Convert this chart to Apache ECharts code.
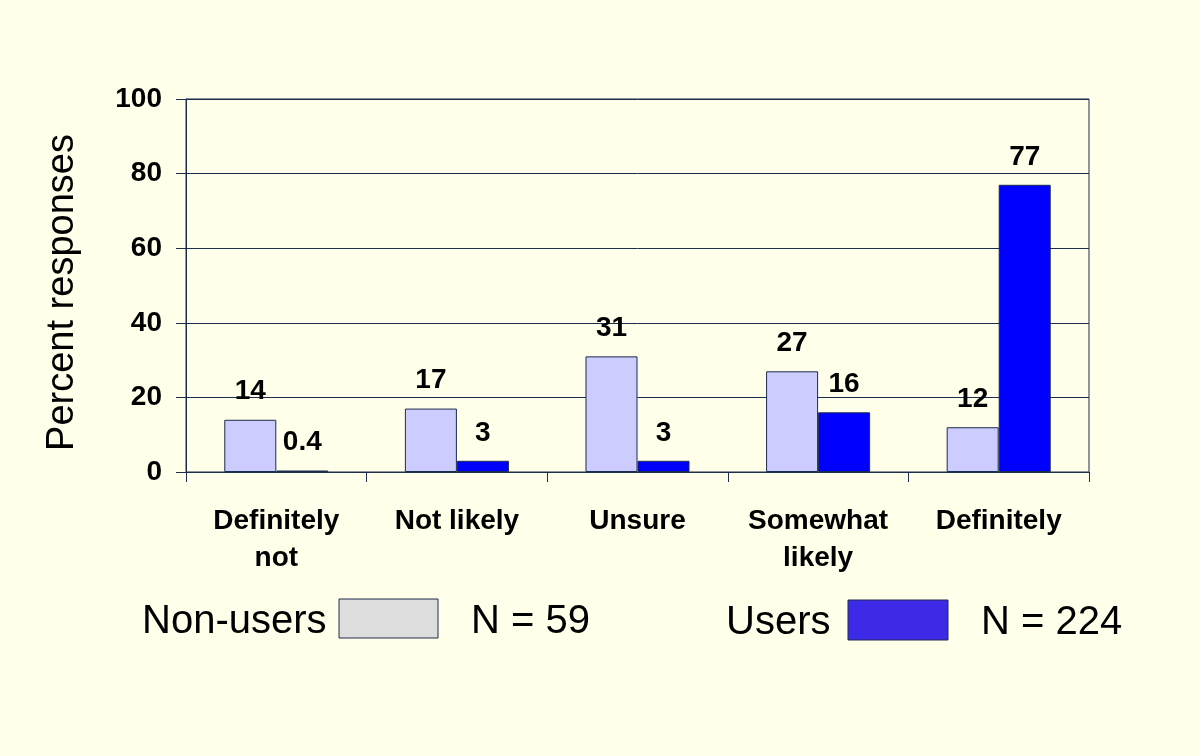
<!DOCTYPE html>
<html>
<head>
<meta charset="utf-8">
<script src="https://cdn.jsdelivr.net/npm/echarts@6/dist/echarts.min.js"></script>
<style>
html,body{margin:0;padding:0;background:#FFFFEA;}
#chart{width:1200px;height:756px;}
</style>
</head>
<body>
<div id="chart"></div>
<script>
var categories = ['Definitely\nnot', 'Not likely', 'Unsure', 'Somewhat\nlikely', 'Definitely'];
var nonUsers = [14, 17, 31, 27, 12];
var users = [0.4, 3, 3, 16, 77];
var yTicks = [0, 20, 40, 60, 80, 100];
var legendNonUsers = ['Non-users', 'N = 59'];
var legendUsers = ['Users', 'N = 224'];
var yAxisTitle = 'Percent responses';

var FONT = '"Liberation Sans", Arial, sans-serif';
var LINE = '#1C2C4C';
var chart = echarts.init(document.getElementById('chart'));
var labelStyle = {
  show: true, position: 'top', distance: 14,
  fontFamily: FONT, fontWeight: 'bold', fontSize: 28, color: '#000'
};
chart.setOption({
  backgroundColor: '#FFFFEA',
  animation: false,
  grid: {
    left: 186, right: 111, top: 99, bottom: 284,
    show: true, borderColor: LINE, borderWidth: 1, backgroundColor: 'transparent'
  },
  xAxis: {
    type: 'category',
    data: categories,
    axisLine: { lineStyle: { color: LINE, width: 1 } },
    axisTick: { show: true, length: 10, lineStyle: { color: LINE } },
    axisLabel: {
      margin: 31, fontFamily: FONT, fontWeight: 'bold', fontSize: 28,
      color: '#000', lineHeight: 37, verticalAlign: 'top', interval: 0
    }
  },
  yAxis: {
    type: 'value',
    min: yTicks[0], max: yTicks[yTicks.length - 1], interval: 20,
    name: yAxisTitle,
    nameLocation: 'middle',
    nameGap: 104,
    nameRotate: 90,
    nameTextStyle: { fontFamily: FONT, fontSize: 38, color: '#000', padding: [0, 14, 0, 0] },
    axisLine: { show: true, lineStyle: { color: LINE, width: 1 } },
    axisTick: { show: true, length: 10, lineStyle: { color: LINE } },
    splitLine: { show: true, lineStyle: { color: LINE, width: 1 } },
    axisLabel: {
      margin: 24, fontFamily: FONT, fontWeight: 'bold', fontSize: 28, color: '#000'
    }
  },
  series: [
    {
      name: legendNonUsers[0], type: 'bar', data: nonUsers,
      barGap: '0%', barCategoryGap: '42.4%',
      itemStyle: { color: '#CCCCFF', borderColor: LINE, borderWidth: 1 },
      label: labelStyle
    },
    {
      name: legendUsers[0], type: 'bar', data: users,
      itemStyle: { color: '#0000FF', borderColor: LINE, borderWidth: 1 },
      label: labelStyle
    }
  ],
  graphic: [
    { type: 'text', left: 142, top: 602, style: { text: legendNonUsers[0], font: '40px ' + FONT, fill: '#000' } },
    { type: 'rect', shape: { x: 339, y: 599, width: 99, height: 39 }, style: { fill: '#DDDDDD', stroke: LINE, lineWidth: 1 } },
    { type: 'text', left: 471, top: 602, style: { text: legendNonUsers[1], font: '40px ' + FONT, fill: '#000' } },
    { type: 'text', left: 726, top: 603, style: { text: legendUsers[0], font: '40px ' + FONT, fill: '#000' } },
    { type: 'rect', shape: { x: 848, y: 600, width: 100, height: 40 }, style: { fill: '#3C2AE6', stroke: LINE, lineWidth: 1 } },
    { type: 'text', left: 981, top: 603, style: { text: legendUsers[1], font: '40px ' + FONT, fill: '#000' } }
  ]
});
</script>
</body>
</html>
